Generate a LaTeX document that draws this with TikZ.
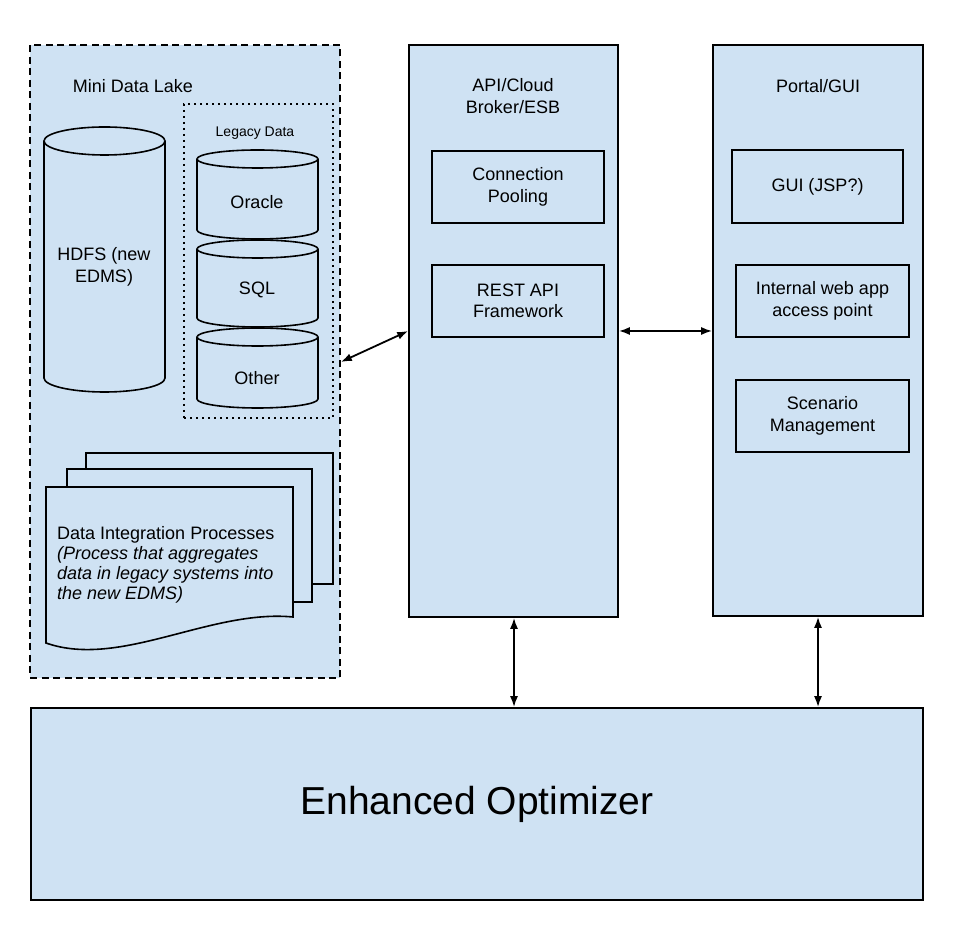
\documentclass[tikz,border=0pt]{standalone}
\usepackage{fontspec}
\setmainfont{Liberation Sans}
\usetikzlibrary{arrows.meta,calc}
\definecolor{lb}{HTML}{CFE2F3}
\newcommand\fsn{\fontsize{18}{21.5}\selectfont}
\newcommand\fsdoc{\fontsize{18}{20}\selectfont}
\newcommand\fssmall{\fontsize{14}{16}\selectfont}
\newcommand\fsbig{\fontsize{39}{44}\selectfont}
\newcommand\dbcyl[5]{% cx, rx, ry, Ytop, Ybot
  \filldraw[cylst] ({#1-#2},#4) -- ({#1-#2},#5)
    arc[start angle=180,end angle=360,x radius=#2,y radius=#3]
    -- ({#1+#2},#4)
    arc[start angle=0,end angle=180,x radius=#2,y radius=#3] -- cycle;
  \draw[cylst] ({#1-#2},#4) arc[start angle=180,end angle=360,x radius=#2,y radius=#3];
}
\begin{document}
\begin{tikzpicture}[x=1pt,y=1pt,
  box/.style={draw=black, fill=lb, line width=1.6pt, inner sep=0pt, align=center, font=\fsn},
  inbox/.style={box},
  cylst/.style={draw=black, fill=lb, line width=1.6pt},
  docst/.style={draw=black, fill=lb, line width=1.6pt},
  txt/.style={inner sep=0pt, align=center, font=\fsn},
  arr/.style={{Latex[length=11pt,width=8pt]}-{Latex[length=11pt,width=8pt]}, line width=1.8pt, draw=black}]
\useasboundingbox (0,0) rectangle (960,931);
\fill[white] (0,0) rectangle (960,931);

% Mini data lake
\node[box, dash pattern=on 7pt off 4.5pt, minimum width=310pt, minimum height=633pt] (lake) at (185,569.5) {};
\node[txt] (laketitle) at (133,845) {Mini Data Lake};
\node[draw=black, line width=1.6pt, dash pattern=on 1.6pt off 4.4pt, minimum width=149pt, minimum height=314pt, inner sep=0pt] (legacy) at (258.5,670) {};
\node[txt, font=\fssmall] (legacytitle) at (255,798) {Legacy Data};

% cylinders
\dbcyl{104.5}{60.5}{14}{790}{553}
\node[txt] (hdfs) at (104,664) {HDFS (new\\EDMS)};
\dbcyl{257.5}{60.5}{9}{772}{701}
\node[txt] (oracle) at (257,729) {Oracle};
\dbcyl{257.5}{60.5}{9}{682}{613}
\node[txt] (sql) at (257,641) {SQL};
\dbcyl{257.5}{60.5}{9}{594}{532}
\node[txt] (other) at (257,553) {Other};

% document stack
\filldraw[docst] (86,478) rectangle (333,347);
\filldraw[docst] (67,462) rectangle (312,329);
\filldraw[docst] (46,444) -- (293,444) -- (293,314) .. controls (210,322) and (120,262) .. (46,288) -- cycle;
\node[inner sep=0pt, anchor=west, align=left, font=\fsdoc] (dip) at (57,366)
  {Data Integration Processes\\\textit{(Process that aggregates}\\\textit{data in legacy systems into}\\\textit{the new EDMS)}};

% API column
\node[box, minimum width=209pt, minimum height=572pt] (api) at (513.5,600) {};
\node[txt] (apititle) at (513,835) {API/Cloud\\Broker/ESB};
\node[inbox, minimum width=172pt, minimum height=72pt] (conn) at (518,744) {Connection\\Pooling};
\node[inbox, minimum width=172pt, minimum height=72pt] (rest) at (518,630) {REST API\\Framework};

% Portal column
\node[box, minimum width=210pt, minimum height=571pt] (portal) at (818,600.5) {};
\node[txt] (portaltitle) at (818,845) {Portal/GUI};
\node[inbox, minimum width=171pt, minimum height=73pt] (gui) at (817.5,744.5) {GUI (JSP?)};
\node[inbox, minimum width=173pt, minimum height=72pt] (iwa) at (822.5,630) {Internal web app\\access point};
\node[inbox, minimum width=173pt, minimum height=72pt] (scen) at (822.5,515) {Scenario\\Management};

% Optimizer
\node[box, font=\fsbig, minimum width=892pt, minimum height=192pt] (opt) at (477,127) {Enhanced Optimizer};

% connectors
\coordinate (h) at (0,600);
\coordinate (lk) at (0,569);
\coordinate (v1) at (514,0);
\coordinate (v2) at (818,0);
\draw[arr] (lake.east |- lk) -- (api.west |- h);
\draw[arr] (api.east |- h) -- (portal.west |- h);
\draw[arr] (api.south -| v1) -- (opt.north -| v1);
\draw[arr] (portal.south -| v2) -- (opt.north -| v2);
\end{tikzpicture}
\end{document}
